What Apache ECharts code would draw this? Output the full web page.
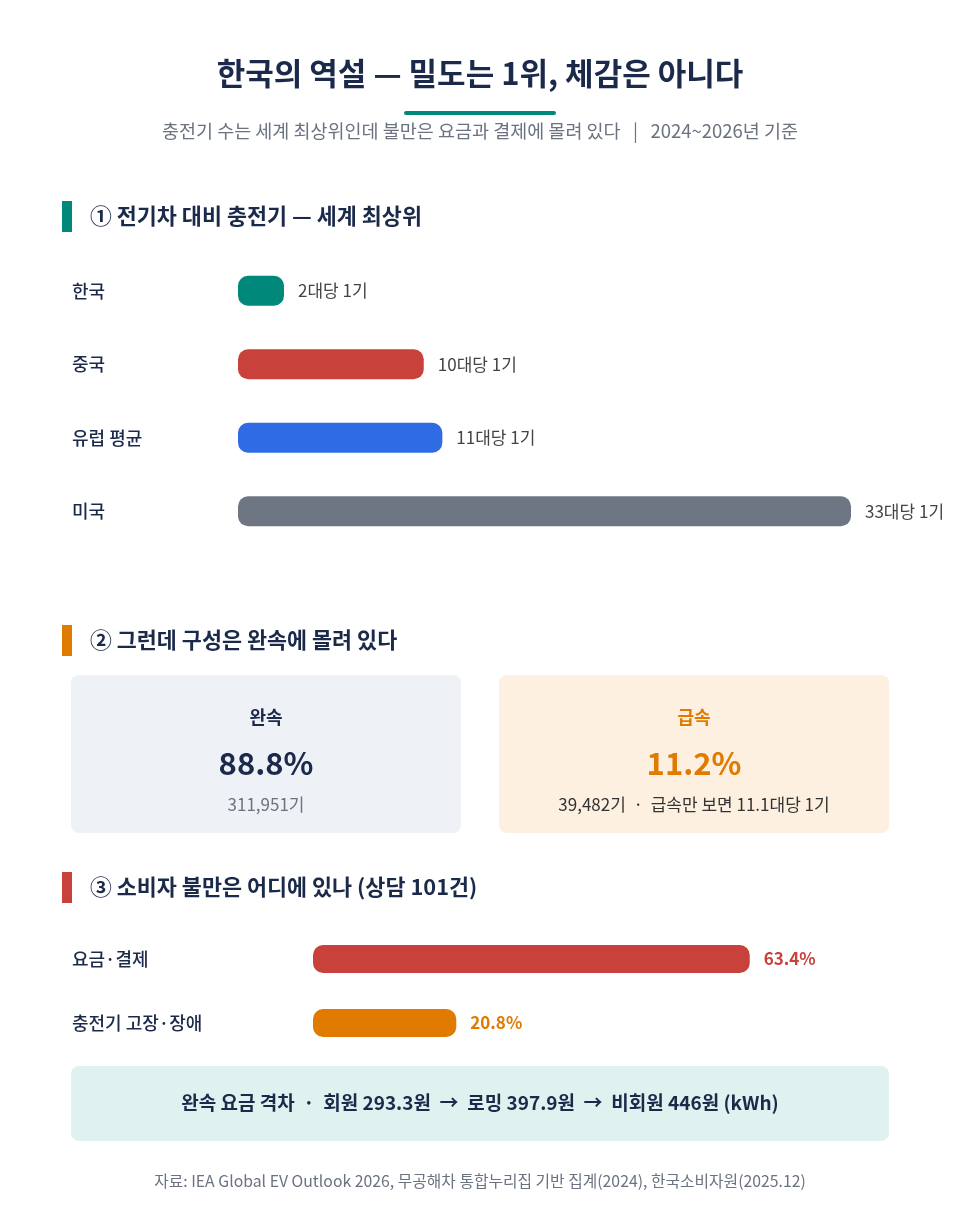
<!DOCTYPE html>
<html>
<head>
<meta charset="utf-8">
<script src="https://cdn.jsdelivr.net/npm/echarts@6/dist/echarts.min.js"></script>
<style>
  html, body { margin: 0; padding: 0; background: #fff; }
  #chart { width: 960px; height: 1208px; }
</style>
</head>
<body>
<div id="chart"></div>
<script>
// ① 전기차 몇 대당 충전기 1기
const regions = ['한국', '중국', '유럽 평균', '미국']
const evPerCharger = [2, 10, 11, 33]
const regionColors = ['#00897b', '#c8423b', '#2f6be4', '#6f7683']

// ② 완속 / 급속 구성
const speedNames = ['완속', '급속']
const speedShares = ['88.8%', '11.2%']
const speedNotes = ['311,951기', '39,482기  ·  급속만 보면 11.1대당 1기']

// ③ 소비자 불만 (상담 101건)
const complaintTypes = ['요금·결제', '충전기 고장·장애']
const complaintShares = [63.4, 20.8]
const complaintColors = ['#c8423b', '#e07b00']

const FONT = '"Noto Sans CJK KR", "Noto Sans", sans-serif'
const NAVY = '#1b2a4a'
const GRAY = '#6b7280'

const chart = echarts.init(document.getElementById('chart'))

function sectionHead(y, color, text) {
  return [
    { type: 'rect', shape: { x: 62, y: y - 15, width: 10, height: 31 }, style: { fill: color } },
    { type: 'text', x: 90, y: y, style: { text: text, font: 'bold 21.8px ' + FONT, fill: NAVY, textVerticalAlign: 'middle' } }
  ]
}

function card(x, bg, idx, accent, noteColor) {
  const cx = x + 195
  return [
    { type: 'rect', shape: { x: x, y: 675, width: 390, height: 158, r: 8 }, style: { fill: bg } },
    { type: 'text', x: cx, y: 717, style: { text: speedNames[idx], font: 'bold 18px ' + FONT, fill: accent, textAlign: 'center', textVerticalAlign: 'middle' } },
    { type: 'text', x: cx, y: 763, style: { text: speedShares[idx], font: 'bold 31px ' + FONT, fill: accent, textAlign: 'center', textVerticalAlign: 'middle' } },
    { type: 'text', x: cx, y: 805, style: { text: speedNotes[idx], font: '17px ' + FONT, fill: noteColor, textAlign: 'center', textVerticalAlign: 'middle' } }
  ]
}

const graphics = [
  { type: 'text', x: 480, y: 73, style: { text: '한국의 역설 — 밀도는 1위, 체감은 아니다', font: 'bold 31px ' + FONT, fill: NAVY, textAlign: 'center', textVerticalAlign: 'middle' } },
  { type: 'rect', shape: { x: 404, y: 111, width: 152, height: 4, r: 2 }, style: { fill: '#00897b' } },
  { type: 'text', x: 480, y: 131, style: { text: '충전기 수는 세계 최상위인데 불만은 요금과 결제에 몰려 있다   |   2024~2026년 기준', font: '18.5px ' + FONT, fill: GRAY, textAlign: 'center', textVerticalAlign: 'middle' } },
  ...sectionHead(216, '#00897b', '① 전기차 대비 충전기 — 세계 최상위'),
  ...sectionHead(640, '#e07b00', '② 그런데 구성은 완속에 몰려 있다'),
  ...card(71, '#eef1f6', 0, NAVY, GRAY),
  ...card(499, '#fdf0e0', 1, '#e07b00', '#333'),
  ...sectionHead(887, '#c8423b', '③ 소비자 불만은 어디에 있나 (상담 101건)'),
  { type: 'rect', shape: { x: 71, y: 1066, width: 818, height: 75, r: 8 }, style: { fill: '#e0f2f0' } },
  { type: 'text', x: 480, y: 1103, style: { text: '완속 요금 격차  ·  회원 293.3원  →  로밍 397.9원  →  비회원 446원 (kWh)', font: 'bold 19px ' + FONT, fill: NAVY, textAlign: 'center', textVerticalAlign: 'middle' } },
  { type: 'text', x: 480, y: 1181, style: { text: '자료: IEA Global EV Outlook 2026, 무공해차 통합누리집 기반 집계(2024), 한국소비자원(2025.12)', font: '15.8px ' + FONT, fill: GRAY, textAlign: 'center', textVerticalAlign: 'middle' } }
]

const catLabel = {
  color: NAVY, fontSize: 18, fontWeight: 500, fontFamily: FONT,
  align: 'left', margin: 0
}

chart.setOption({
  animation: false,
  textStyle: { fontFamily: FONT },
  graphic: graphics,
  grid: [
    { left: 238, top: 254, width: 613, height: 294, outerBoundsMode: 'none' },
    { left: 313, top: 927, width: 620, height: 128, outerBoundsMode: 'none' }
  ],
  xAxis: [
    { gridIndex: 0, type: 'value', min: 0, max: 33, show: false },
    { gridIndex: 1, type: 'value', min: 0, max: 90, show: false }
  ],
  yAxis: [
    {
      gridIndex: 0, type: 'category', data: regions, inverse: true,
      axisLine: { show: false }, axisTick: { show: false },
      axisLabel: { ...catLabel, margin: 166 }
    },
    {
      gridIndex: 1, type: 'category', data: complaintTypes, inverse: true,
      axisLine: { show: false }, axisTick: { show: false },
      axisLabel: { ...catLabel, margin: 241 }
    }
  ],
  series: [
    {
      type: 'bar', xAxisIndex: 0, yAxisIndex: 0, barWidth: 30, barMinHeight: 46,
      data: evPerCharger.map((v, i) => ({ value: v, itemStyle: { color: regionColors[i] } })),
      itemStyle: { borderRadius: 10 },
      label: {
        show: true, position: 'right', distance: 14,
        formatter: p => p.value + '대당 1기',
        color: '#444', fontSize: 17, fontFamily: FONT
      }
    },
    {
      type: 'bar', xAxisIndex: 1, yAxisIndex: 1, barWidth: 28,
      data: complaintShares.map((v, i) => ({
        value: v,
        itemStyle: { color: complaintColors[i] },
        label: { color: complaintColors[i] }
      })),
      itemStyle: { borderRadius: 10 },
      label: {
        show: true, position: 'right', distance: 14,
        formatter: p => p.value.toFixed(1) + '%',
        fontSize: 17, fontWeight: 'bold', fontFamily: FONT
      }
    }
  ]
})
</script>
</body>
</html>
